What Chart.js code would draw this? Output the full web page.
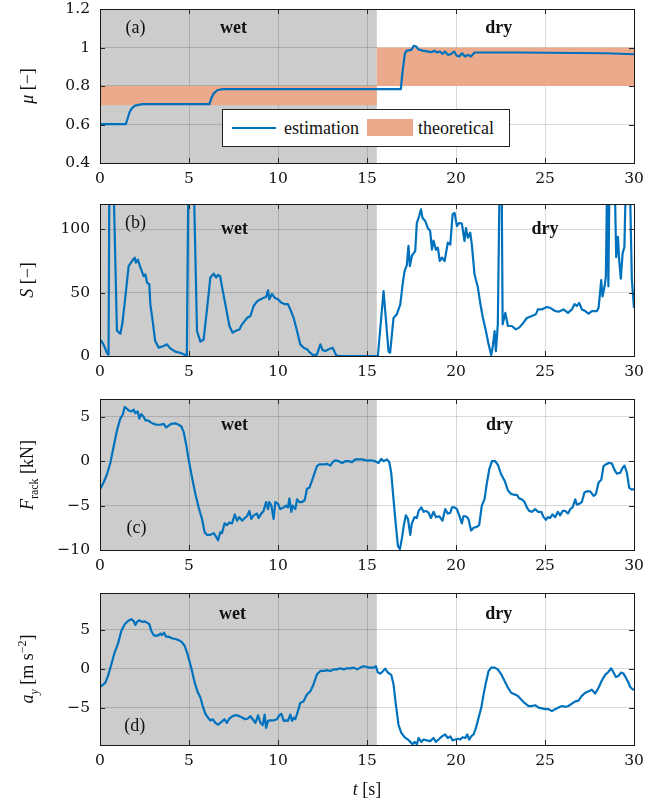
<!DOCTYPE html>
<html>
<head>
<meta charset="utf-8">
<title>friction estimation</title>
<script src="https://cdn.jsdelivr.net/npm/chart.js@4.4.1/dist/chart.umd.min.js"></script>
<style>
  html, body { margin: 0; padding: 0; background: #fff; }
  #fig { position: relative; width: 658px; height: 803px; overflow: hidden; font-family: "Liberation Serif", "Times New Roman", serif; color: #111; }
  #fig canvas { position: absolute; left: 0; top: 0; }
  .ylab { position: absolute; left: 27px; font-size: 18px; line-height: 20px; white-space: nowrap; transform: translate(-50%, -50%) rotate(-90deg); }
  .ylab sub, .ylab sup { font-size: 12px; line-height: 0; }
  #xlab { position: absolute; left: 367px; top: 789px; font-size: 18px; line-height: 20px; white-space: nowrap; transform: translate(-50%, -50%); }
  #legend { position: absolute; left: 222px; top: 109px; width: 288px; height: 38px; background: #fff; border: 1px solid #222; box-sizing: border-box; }
  #legend .ln { position: absolute; left: 9px; top: 17px; width: 44px; height: 2px; background: #0072BD; }
  #legend .patch { position: absolute; left: 144px; top: 9px; width: 46px; height: 17px; background: rgb(234,170,139); }
  #legend .tx { position: absolute; top: 7px; font-size: 18px; line-height: 22px; white-space: nowrap; }
</style>
</head>
<body>
<div id="fig">
  <canvas id="cA" width="658" height="803"></canvas>
  <canvas id="cB" width="658" height="803"></canvas>
  <canvas id="cC" width="658" height="803"></canvas>
  <canvas id="cD" width="658" height="803"></canvas>

  <div class="ylab" style="top:86px"><i>μ</i> [−]</div>
  <div class="ylab" style="top:280px"><i>S</i> [−]</div>
  <div class="ylab" style="top:475px"><i>F</i><sub>rack</sub> [kN]</div>
  <div class="ylab" style="top:669px"><i>a<sub>y</sub></i> [m s<sup>−2</sup>]</div>
  <div id="xlab"><i>t</i> [s]</div>

  <div id="legend">
    <span class="ln"></span><span class="tx" style="left:61px">estimation</span>
    <span class="patch"></span><span class="tx" style="left:195px">theoretical</span>
  </div>
</div>

<script>
"use strict";

// ---- data ----
const timeTicks = [0, 5, 10, 15, 20, 25, 30];
const wetEnd = 15.55; // end of the wet section [s]

// (a) friction estimate
const tMu = [0, 1.45, 1.55, 1.67, 1.8, 1.97, 2.37, 6.15, 6.25, 6.39,
  6.59, 6.89, 16.9, 16.98, 17.13, 17.23, 17.49, 17.63, 17.77, 17.89,
  18.13, 18.43, 18.63, 18.78, 18.94, 19.1, 19.24, 19.38, 19.54, 19.7,
  19.9, 20.04, 20.18, 20.34, 20.5, 20.7, 20.84, 21.04, 23.55, 28.37, 30];
const muEst = [0.602, 0.602, 0.63, 0.666, 0.685, 0.698, 0.706, 0.706, 0.735, 0.762,
  0.778, 0.784, 0.784, 0.86, 0.97, 0.984, 0.988, 1.009, 1.005, 0.99,
  0.984, 0.979, 0.976, 0.983, 0.974, 0.979, 0.967, 0.979, 0.962, 0.965,
  0.979, 0.957, 0.953, 0.97, 0.953, 0.962, 0.953, 0.974, 0.974, 0.97, 0.965];
const theoT = [0, wetEnd, wetEnd, 30];
const theoLow = [0.7, 0.7, 0.8, 0.8];
const theoHigh = [0.8, 0.8, 1.0, 1.0];
const muTicks = [0.4, 0.6, 0.8, 1, 1.2];

// (b) S
const tS = [0, 0.07, 0.2, 0.39, 0.48, 0.53, 0.74, 0.95, 1.14, 1.25,
  1.42, 1.61, 1.8, 1.95, 2.02, 2.13, 2.27, 2.45, 2.55, 2.64,
  2.77, 2.83, 2.96, 3.1, 3.3, 3.58, 3.76, 3.95, 4.23, 4.5,
  4.7, 4.88, 4.97, 5.25, 5.45, 5.64, 5.82, 6.0, 6.2, 6.39,
  6.52, 6.63, 6.75, 6.85, 7.08, 7.27, 7.45, 7.6, 7.83, 7.98,
  8.26, 8.45, 8.63, 8.82, 9.0, 9.2, 9.33, 9.44, 9.51, 9.66,
  9.81, 10.0, 10.19, 10.37, 10.56, 10.69, 10.88, 11.07, 11.25, 11.44,
  11.63, 11.8, 12.0, 12.19, 12.38, 12.51, 12.66, 12.85, 13.07, 13.26,
  13.4, 15.61, 15.93, 16.21, 16.3, 16.49, 16.68, 16.87, 17.0, 17.11,
  17.24, 17.33, 17.41, 17.52, 17.71, 17.8, 17.93, 18.03, 18.12, 18.27,
  18.42, 18.55, 18.65, 18.74, 18.87, 18.98, 19.09, 19.21, 19.36, 19.54,
  19.68, 19.81, 19.92, 20.05, 20.18, 20.33, 20.48, 20.56, 20.67, 20.8,
  20.89, 21.04, 21.23, 21.36, 21.49, 21.68, 21.83, 21.98, 22.07, 22.17,
  22.24, 22.35, 22.46, 22.56, 22.62, 22.77, 22.92, 23.14, 23.36, 23.55,
  23.79, 23.98, 24.26, 24.49, 24.6, 24.82, 25.1, 25.29, 25.57, 25.76,
  26.04, 26.29, 26.51, 26.66, 26.79, 26.92, 27.07, 27.26, 27.45, 27.63,
  27.92, 28.01, 28.16, 28.23, 28.35, 28.42, 28.5, 28.56, 28.63, 28.9,
  29.0, 29.1, 29.16, 29.26, 29.36, 29.46, 29.56, 29.75, 29.88, 30];
const sVal = [12, 12, 9, 2.6, 1, 150, 150, 20, 17.6, 25,
  46, 71, 75, 77.6, 73.7, 76, 70, 63, 64.5, 58,
  56.6, 40.8, 27.6, 11.8, 6.6, 7.9, 9.2, 6, 3.4, 2.6,
  1.3, 0.5, 150, 150, 19.7, 11.3, 13, 35.5, 62, 65,
  62, 64, 63, 55, 38, 23.7, 18.4, 19.7, 21, 25,
  30, 31.6, 39.5, 43, 44.7, 46, 46.6, 51.8, 44.7, 49,
  46, 44.7, 42, 41, 41, 36.8, 30, 19.7, 9.2, 6.6,
  5.3, 2.6, 0.5, 1.3, 9.2, 4.5, 3.9, 5.3, 6.6, 0.8,
  0, 0, 51.3, 3.4, 2.6, 30, 33, 40.8, 56.6, 67,
  72, 87, 71, 79, 83, 105, 110.5, 115.8, 109, 106.6,
  101, 98.7, 84, 91, 84, 85.5, 75, 77.6, 75, 89.5,
  88, 111.8, 113, 102.6, 105, 104.5, 90.8, 101, 93.4, 97.4,
  88, 64.5, 54, 42, 31.6, 19.7, 9.2, 0.8, 7.9, 19.7,
  3.9, 25, 150, 150, 25, 34, 23.7, 23.7, 21, 22.4,
  26.3, 30, 31.6, 33, 36.8, 36.8, 38.7, 38, 35.5, 35,
  36.8, 34, 36.8, 41, 39.5, 42, 36.8, 35.5, 33.4, 35.5,
  35.5, 38, 60, 47, 55, 63, 150, 55, 150, 150,
  78, 94, 77, 61, 81, 86, 150, 150, 60, 38];
const sTicks = [0, 50, 100];

// (c) rack force [kN]
const tF = [0, 0.06, 0.2, 0.39, 0.58, 0.77, 0.96, 1.14, 1.27, 1.39,
  1.52, 1.61, 1.76, 1.89, 1.99, 2.12, 2.21, 2.32, 2.45, 2.55,
  2.7, 2.83, 3.01, 3.2, 3.39, 3.58, 3.71, 3.86, 4.0, 4.23,
  4.42, 4.57, 4.7, 4.83, 4.98, 5.17, 5.36, 5.54, 5.73, 5.88,
  6.01, 6.2, 6.39, 6.52, 6.63, 6.76, 6.85, 7.0, 7.13, 7.27,
  7.42, 7.57, 7.7, 7.83, 7.98, 8.13, 8.26, 8.39, 8.5, 8.63,
  8.82, 8.91, 9.06, 9.19, 9.33, 9.44, 9.51, 9.63, 9.75, 9.85,
  10.0, 10.13, 10.32, 10.45, 10.56, 10.64, 10.75, 10.82, 10.97, 11.07,
  11.2, 11.35, 11.5, 11.63, 11.76, 11.91, 12.06, 12.19, 12.32, 12.57,
  12.75, 12.94, 13.07, 13.22, 13.4, 13.6, 13.78, 13.97, 14.16, 14.34,
  14.53, 14.72, 15.0, 15.18, 15.46, 15.65, 15.8, 15.93, 16.12, 16.25,
  16.36, 16.49, 16.62, 16.74, 16.85, 16.96, 17.07, 17.18, 17.3, 17.43,
  17.52, 17.67, 17.8, 17.9, 18.05, 18.18, 18.31, 18.46, 18.59, 18.74,
  18.87, 19.06, 19.24, 19.39, 19.54, 19.68, 19.77, 19.92, 20.05, 20.18,
  20.33, 20.42, 20.56, 20.7, 20.85, 20.99, 21.17, 21.3, 21.45, 21.6,
  21.74, 21.87, 22.02, 22.2, 22.35, 22.54, 22.73, 22.92, 23.1, 23.29,
  23.42, 23.55, 23.7, 23.85, 23.98, 24.11, 24.26, 24.45, 24.6, 24.79,
  24.92, 25.05, 25.16, 25.29, 25.42, 25.57, 25.72, 25.85, 25.99, 26.14,
  26.29, 26.42, 26.55, 26.7, 26.79, 26.92, 27.07, 27.22, 27.35, 27.54,
  27.73, 27.86, 28.01, 28.16, 28.29, 28.42, 28.57, 28.76, 28.91, 29.04,
  29.23, 29.36, 29.47, 29.6, 29.73, 29.88, 30];
const fRack = [-3.1, -2.96, -2.4, -1.5, -0.2, 1.67, 3.5, 4.8, 5.2, 6.1,
  5.9, 5.7, 5.6, 5.8, 5.4, 5.6, 4.8, 5.3, 5.0, 4.6,
  4.6, 4.4, 4.2, 4.1, 4.1, 4.2, 3.8, 4.0, 4.2, 4.26,
  4.1, 3.9, 3.3, 2.0, 0.2, -1.85, -3.7, -5.2, -6.5, -8.0,
  -8.3, -8.3, -8.1, -8.5, -8.9, -8.0, -8.1, -7.0, -7.2, -6.9,
  -7.0, -6.0, -6.7, -6.3, -6.7, -6.4, -6.2, -5.6, -6.5, -6.1,
  -5.9, -6.4, -5.9, -5.6, -4.6, -5.4, -4.6, -5.0, -6.5, -4.6,
  -4.8, -5.4, -5.2, -5.0, -5.2, -4.2, -5.7, -5.0, -5.4, -4.3,
  -4.6, -4.6, -4.4, -3.1, -3.0, -2.2, -1.3, -0.55, -0.37, -0.37,
  -0.3, -0.5, -0.1, 0.1, 0, -0.2, 0, 0, -0.1, 0.2,
  0.2, 0.2, 0.07, 0.1, 0, -0.2, 0.26, 0, 0.2, -0.1,
  -1.3, -4.3, -7.2, -9.6, -9.9, -8.7, -7.2, -6.1, -6.5, -8.3,
  -7.0, -6.3, -6.4, -5.6, -5.2, -5.7, -5.6, -5.8, -6.4, -5.7,
  -6.3, -6.2, -6.7, -5.4, -5.9, -5.8, -5.2, -5.2, -5.4, -6.1,
  -7.0, -6.2, -6.2, -6.5, -7.8, -7.5, -7.4, -7.2, -5.0, -4.3,
  -2.4, -0.9, 0, 0, -0.4, -1.5, -2.2, -3.3, -3.7, -3.8,
  -3.8, -4.2, -4.3, -4.6, -5.2, -5.6, -5.7, -5.4, -5.7, -5.7,
  -6.3, -6.6, -6.3, -6.4, -6.0, -6.3, -5.7, -6.1, -5.6, -5.6,
  -5.9, -5.4, -5.2, -4.3, -4.9, -4.8, -4.6, -3.5, -3.4, -3.4,
  -3.9, -3.7, -2.4, -2.1, -0.55, -0.37, -0.2, -0.26, -1.0, -1.4,
  -1.3, -0.74, -0.5, -1.3, -3.0, -3.2, -3.15];
const fTicks = [-10, -5, 0, 5];

// (d) lateral acceleration [m/s^2]
const tAy = [0, 0.15, 0.3, 0.45, 0.64, 0.82, 1.01, 1.2, 1.39, 1.57,
  1.76, 1.89, 1.99, 2.08, 2.21, 2.36, 2.51, 2.64, 2.77, 2.88,
  3.01, 3.15, 3.3, 3.4, 3.48, 3.6, 3.71, 3.86, 4.04, 4.23,
  4.42, 4.6, 4.76, 4.89, 5.02, 5.17, 5.32, 5.47, 5.64, 5.77,
  5.92, 6.07, 6.2, 6.33, 6.48, 6.63, 6.76, 6.89, 7.0, 7.13,
  7.27, 7.45, 7.64, 7.83, 8.01, 8.16, 8.31, 8.45, 8.58, 8.73,
  8.88, 9.01, 9.14, 9.25, 9.33, 9.44, 9.57, 9.75, 9.94, 10.07,
  10.19, 10.32, 10.45, 10.56, 10.69, 10.79, 10.88, 10.97, 11.12, 11.25,
  11.44, 11.63, 11.82, 12.0, 12.19, 12.38, 12.57, 12.75, 12.94, 13.13,
  13.31, 13.5, 13.69, 13.88, 14.06, 14.25, 14.44, 14.63, 14.81, 15.0,
  15.12, 15.37, 15.5, 15.61, 15.74, 15.87, 16.02, 16.17, 16.36, 16.49,
  16.62, 16.77, 16.92, 17.11, 17.3, 17.43, 17.56, 17.67, 17.8, 17.9,
  18.05, 18.18, 18.36, 18.55, 18.74, 18.87, 19.02, 19.21, 19.39, 19.54,
  19.68, 19.81, 19.96, 20.11, 20.24, 20.37, 20.52, 20.63, 20.74, 20.85,
  20.99, 21.12, 21.27, 21.42, 21.55, 21.68, 21.83, 21.98, 22.17, 22.35,
  22.54, 22.73, 22.92, 23.1, 23.29, 23.48, 23.66, 23.85, 24.08, 24.26,
  24.45, 24.64, 24.83, 25.01, 25.2, 25.39, 25.57, 25.76, 25.95, 26.14,
  26.32, 26.51, 26.7, 26.88, 27.07, 27.26, 27.45, 27.63, 27.82, 28.01,
  28.2, 28.38, 28.57, 28.72, 28.85, 28.98, 29.13, 29.28, 29.41, 29.54,
  29.69, 29.79, 29.92, 30];
const aY = [-2.36, -2.1, -1.8, -0.94, 0.56, 2.06, 3.2, 4.85, 5.7, 6.1,
  6.35, 6.1, 5.6, 6.0, 6.2, 6.0, 6.05, 5.9, 5.7, 4.85,
  4.3, 4.2, 4.3, 4.5, 4.3, 4.6, 4.1, 4.1, 3.9, 3.8,
  3.65, 3.4, 2.9, 2.06, 1.0, -0.3, -1.8, -2.9, -3.7, -4.8,
  -5.8, -6.3, -6.65, -6.5, -6.95, -7.2, -6.95, -6.7, -6.5, -6.95,
  -6.4, -6.1, -5.97, -6.1, -6.3, -6.5, -6.4, -6.1, -6.5, -6.95,
  -6.0, -6.95, -7.25, -5.9, -7.6, -6.7, -6.65, -6.65, -6.5, -6.0,
  -5.8, -6.7, -6.65, -6.7, -5.9, -6.7, -6.3, -6.5, -5.45, -4.4,
  -4.2, -3.3, -2.9, -2.0, -0.73, -0.3, -0.3, -0.2, -0.3, -0.1,
  -0.1, 0.04, -0.1, 0.04, 0.04, 0.13, -0.1, 0.13, 0.3, 0.2,
  0.13, 0.13, 0.3, -0.5, -0.64, -0.4, 0, -0.5, -0.8, -2.0,
  -4.6, -7.2, -8.2, -8.8, -9.1, -9.4, -9.7, -9.4, -9.7, -8.9,
  -9.4, -9.1, -9.2, -9.3, -8.9, -9.4, -9.1, -8.7, -8.45, -8.9,
  -8.7, -9.2, -9.1, -9.0, -9.1, -8.8, -8.9, -8.45, -9.1, -8.7,
  -8.45, -7.6, -6.3, -5.0, -3.3, -1.8, -0.3, 0.13, 0.13, -0.1,
  -0.73, -1.6, -2.45, -3.1, -3.3, -3.5, -3.95, -4.4, -4.8, -4.8,
  -4.7, -5.0, -5.1, -5.2, -5.2, -5.45, -5.2, -5.0, -4.8, -4.9,
  -4.8, -4.5, -4.2, -4.1, -3.5, -3.1, -2.9, -2.7, -3.2, -2.45,
  -1.5, -0.8, -0.4, 0.04, -0.5, -1.07, -0.94, -0.5, -0.64, -1.16,
  -1.8, -2.36, -2.66, -2.7];
const aTicks = [-5, 0, 5];

// ---- styling ----
const BLUE = '#0072BD';
const BAND = 'rgb(234,170,139)';
const GRID = 'rgba(0,0,0,0.15)';
const WET_BG = '#cccccc';
const TICK_FONT = { family: '"DejaVu Serif", serif', size: 15.5 };
const PLOT_LEFT = 100;   // px, left edge of every axes box
const RIGHT_PAD = 24;    // px, canvas right edge to axes box
const X_AXIS_H = 30;     // px, height reserved for the x tick labels
const FIG_H = 803;

function pts(xs, ys) {
    return xs.map(function (x, i) { return { x: x, y: ys[i] }; });
}

function fmt(v) {
    return String(v).replace('-', '\u2212');
}

// wet background, axes box, inward ticks and in-plot labels
var panelDeco = {
    id: 'panelDeco',
    beforeDraw: function (chart) {
        var a = chart.chartArea, ctx = chart.ctx, xs = chart.scales.x;
        var x0 = xs.getPixelForValue(0), x1 = xs.getPixelForValue(wetEnd);
        ctx.save();
        ctx.fillStyle = WET_BG;
        ctx.fillRect(x0, a.top, x1 - x0, a.bottom - a.top);
        ctx.restore();
    },
    afterDraw: function (chart, args, opts) {
        var a = chart.chartArea, ctx = chart.ctx;
        var xs = chart.scales.x, ys = chart.scales.y;
        ctx.save();
        ctx.strokeStyle = '#262626';
        ctx.lineWidth = 1;
        ctx.beginPath();
        xs.ticks.forEach(function (t) {
            var px = Math.round(xs.getPixelForValue(t.value)) + 0.5;
            if (px <= a.left + 1 || px >= a.right - 1) return;
            ctx.moveTo(px, a.top); ctx.lineTo(px, a.top + 5);
            ctx.moveTo(px, a.bottom); ctx.lineTo(px, a.bottom - 5);
        });
        ys.ticks.forEach(function (t) {
            var py = Math.round(ys.getPixelForValue(t.value)) + 0.5;
            if (py <= a.top + 1 || py >= a.bottom - 1) return;
            ctx.moveTo(a.left, py); ctx.lineTo(a.left + 5, py);
            ctx.moveTo(a.right, py); ctx.lineTo(a.right - 5, py);
        });
        ctx.stroke();
        ctx.strokeStyle = '#1a1a1a';
        ctx.strokeRect(Math.round(a.left) + 0.5, Math.round(a.top) + 0.5,
            Math.round(a.right - a.left), Math.round(a.bottom - a.top));

        ctx.fillStyle = '#111';
        ctx.textAlign = 'center';
        ctx.textBaseline = 'middle';
        (opts.notes || []).forEach(function (n) {
            ctx.font = (n.bold ? 'bold ' : '') + '18px "Liberation Serif", serif';
            ctx.fillText(n.text, xs.getPixelForValue(n.x), ys.getPixelForValue(n.y));
        });
        ctx.restore();
    }
};

function makePanel(id, cfg) {
    return new Chart(document.getElementById(id), {
        type: 'line',
        data: { datasets: cfg.datasets },
        options: {
            responsive: false,
            animation: false,
            events: [],
            layout: { padding: { left: 0, right: RIGHT_PAD, top: cfg.top, bottom: FIG_H - cfg.bottom - X_AXIS_H } },
            plugins: {
                legend: { display: false },
                tooltip: { enabled: false },
                panelDeco: { notes: cfg.notes }
            },
            scales: {
                x: {
                    type: 'linear', min: 0, max: 30, z: cfg.z || 0,
                    afterBuildTicks: function (s) { s.ticks = timeTicks.map(function (v) { return { value: v }; }); },
                    afterFit: function (s) {
                        s.height = X_AXIS_H;
                        s.paddingLeft = 0; s.paddingRight = 0;
                    },
                    border: { display: false },
                    grid: { color: GRID, lineWidth: 1, drawTicks: false },
                    ticks: { padding: 7, font: TICK_FONT, color: '#111', maxRotation: 0, autoSkip: false, callback: fmt }
                },
                y: {
                    type: 'linear', min: cfg.min, max: cfg.max, z: cfg.z || 0,
                    afterBuildTicks: function (s) { s.ticks = cfg.ticks.map(function (v) { return { value: v }; }); },
                    afterFit: function (s) {
                        s.width = PLOT_LEFT;
                        s.paddingTop = 0; s.paddingBottom = 0;
                    },
                    border: { display: false },
                    grid: { color: GRID, lineWidth: 1, drawTicks: false },
                    ticks: { padding: 10, font: TICK_FONT, color: '#111', autoSkip: false, callback: fmt }
                }
            },
            elements: { point: { radius: 0 }, line: { tension: 0 } }
        },
        plugins: [panelDeco]
    });
}

function trace(xs, ys) {
    return { data: pts(xs, ys), borderColor: BLUE, borderWidth: 2.2, borderJoinStyle: 'round', fill: false, pointRadius: 0 };
}

document.addEventListener('DOMContentLoaded', function () {
    // (a) friction coefficient
    makePanel('cA', {
        top: 9, bottom: 163, min: 0.4, max: 1.2, ticks: muTicks, z: 1,
        datasets: [
            trace(tMu, muEst),
            { data: pts(theoT, theoHigh), borderWidth: 0, borderColor: 'transparent', fill: false, pointRadius: 0 },
            { data: pts(theoT, theoLow), borderWidth: 0, borderColor: 'transparent', backgroundColor: BAND, fill: '-1', pointRadius: 0 }
        ],
        notes: [
            { text: '(a)', x: 2.0, y: 1.1 },
            { text: 'wet', x: 7.5, y: 1.1, bold: true },
            { text: 'dry', x: 22.4, y: 1.1, bold: true }
        ]
    });

    // (b) S
    makePanel('cB', {
        top: 204, bottom: 356, min: 0, max: 120, ticks: sTicks,
        datasets: [trace(tS, sVal)],
        notes: [
            { text: '(b)', x: 2.0, y: 104.5 },
            { text: 'wet', x: 7.55, y: 100, bold: true },
            { text: 'dry', x: 25.0, y: 100, bold: true }
        ]
    });

    // (c) rack force
    makePanel('cC', {
        top: 399, bottom: 550, min: -10, max: 7, ticks: fTicks,
        datasets: [trace(tF, fRack)],
        notes: [
            { text: '(c)', x: 2.05, y: -7.5 },
            { text: 'wet', x: 7.55, y: 4.0, bold: true },
            { text: 'dry', x: 22.45, y: 4.0, bold: true }
        ]
    });

    // (d) lateral acceleration
    makePanel('cD', {
        top: 593, bottom: 745, min: -9.8, max: 9.7, ticks: aTicks,
        datasets: [trace(tAy, aY)],
        notes: [
            { text: '(d)', x: 1.95, y: -7.4 },
            { text: 'wet', x: 7.45, y: 7.0, bold: true },
            { text: 'dry', x: 22.4, y: 7.0, bold: true }
        ]
    });
});
</script>
</body>
</html>
